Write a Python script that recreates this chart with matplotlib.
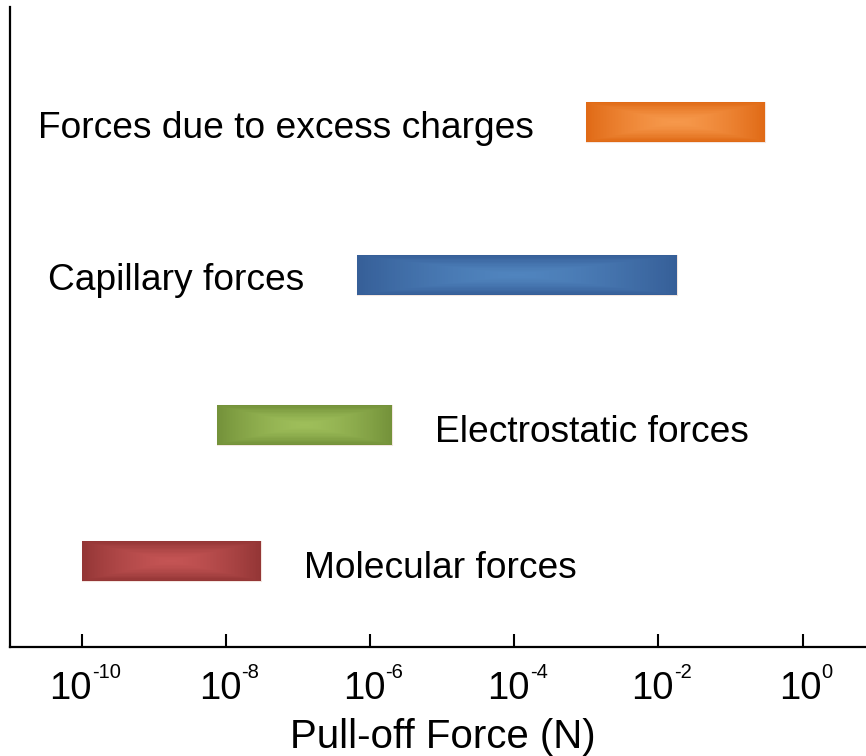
import numpy as np
import matplotlib
matplotlib.use("Agg")
import matplotlib.pyplot as plt
from matplotlib.colors import to_rgb

plt.rcParams['font.family'] = ['Liberation Sans', 'DejaVu Sans']

# force ranges (N)
forces = ['Forces due to excess charges', 'Capillary forces',
          'Electrostatic forces', 'Molecular forces']
f_min = [1e-3, 6.6e-7, 7.5e-9, 1e-10]
f_max = [0.3, 1.8e-2, 2e-6, 3e-8]
edge_cols = ['#E06A16', '#365F98', '#74923A', '#943636']
mid_cols = ['#F6984B', '#5084BE', '#9EBE5A', '#C45454']
label_side = ['left', 'left', 'right', 'right']
tick_exp = [-10, -8, -6, -4, -2, 0]

# layout (vertical row centres, pixel-like units)
row_y = [5.25, 3.72, 2.22, 0.86]
bar_h = 0.40

fig = plt.figure(figsize=(8.66, 7.56), dpi=100)
ax = fig.add_axes([10 / 866, 109 / 756, 856 / 866, 640 / 756])
ax.set_xscale('log')
ax.set_xlim(1e-11, 10 ** 0.88)
ax.set_ylim(0, 6.4)

for name, lo, hi, ec, mc, side, y in zip(forces, f_min, f_max, edge_cols,
                                          mid_cols, label_side, row_y):
    ax.barh(y, hi - lo, left=lo, height=bar_h, color=ec,
            edgecolor='#f3e6e0', linewidth=0.8, zorder=2)
    # rectangular "from centre" gradient on top of the bar
    nx, ny = 120, 30
    xe = np.geomspace(lo, hi, nx + 1)
    ye = np.linspace(y - bar_h / 2, y + bar_h / 2, ny + 1)
    u = np.abs(np.linspace(-1, 1, nx))[None, :]
    v = np.abs(np.linspace(-1, 1, ny))[:, None]
    w = np.clip(np.maximum(u, v) ** 1.5, 0, 1)[..., None]
    rgb = np.array(to_rgb(mc)) * (1 - w) + np.array(to_rgb(ec)) * w
    ax.pcolormesh(xe, ye, rgb, shading='flat', edgecolors='none',
                  antialiased=False, zorder=3)
    if side == 'left':
        ax.annotate(name, (lo, y), xytext=(-53, -6), textcoords='offset pixels',
                    ha='right', va='center', fontsize=26.7)
    else:
        ax.annotate(name, (hi, y), xytext=(43, -8), textcoords='offset pixels',
                    ha='left', va='center', fontsize=26.7)

ax.spines['top'].set_visible(False)
ax.spines['right'].set_visible(False)
ax.spines['left'].set_linewidth(1.6)
ax.spines['bottom'].set_linewidth(1.6)
ax.set_yticks([])
ax.set_xticks([10.0 ** e for e in tick_exp])
ax.set_xticklabels([])
ax.xaxis.set_minor_locator(matplotlib.ticker.NullLocator())
ax.tick_params(axis='x', direction='in', length=9.5, width=1.5)

# tick labels like "10" with a small raised exponent (hyphen, not minus)
pairs = []
for e in tick_exp:
    base = ax.annotate('10', (10.0 ** e, 0), xycoords=('data', 'axes fraction'),
                       xytext=(0, -52), textcoords='offset pixels',
                       ha='left', va='baseline', fontsize=27.5)
    sup = ax.annotate(str(e), (10.0 ** e, 0), xycoords=('data', 'axes fraction'),
                      xytext=(0, -31), textcoords='offset pixels',
                      ha='left', va='baseline', fontsize=14.5)
    pairs.append((base, sup))

fig.canvas.draw()
r = fig.canvas.get_renderer()
for base, sup in pairs:
    w1 = base.get_window_extent(r).width
    w2 = sup.get_window_extent(r).width
    x0 = -(w1 + w2) / 2 + 3
    base.set_position((x0, -52))
    sup.set_position((x0 + w1, -31))

ax.set_xlabel('Pull-off Force (N)', fontsize=29)
ax.xaxis.label.set_va('baseline')
ax.xaxis.set_label_coords(0.5 + 5 / 856, -101 / 640)

fig.savefig('out.png', dpi=100)
